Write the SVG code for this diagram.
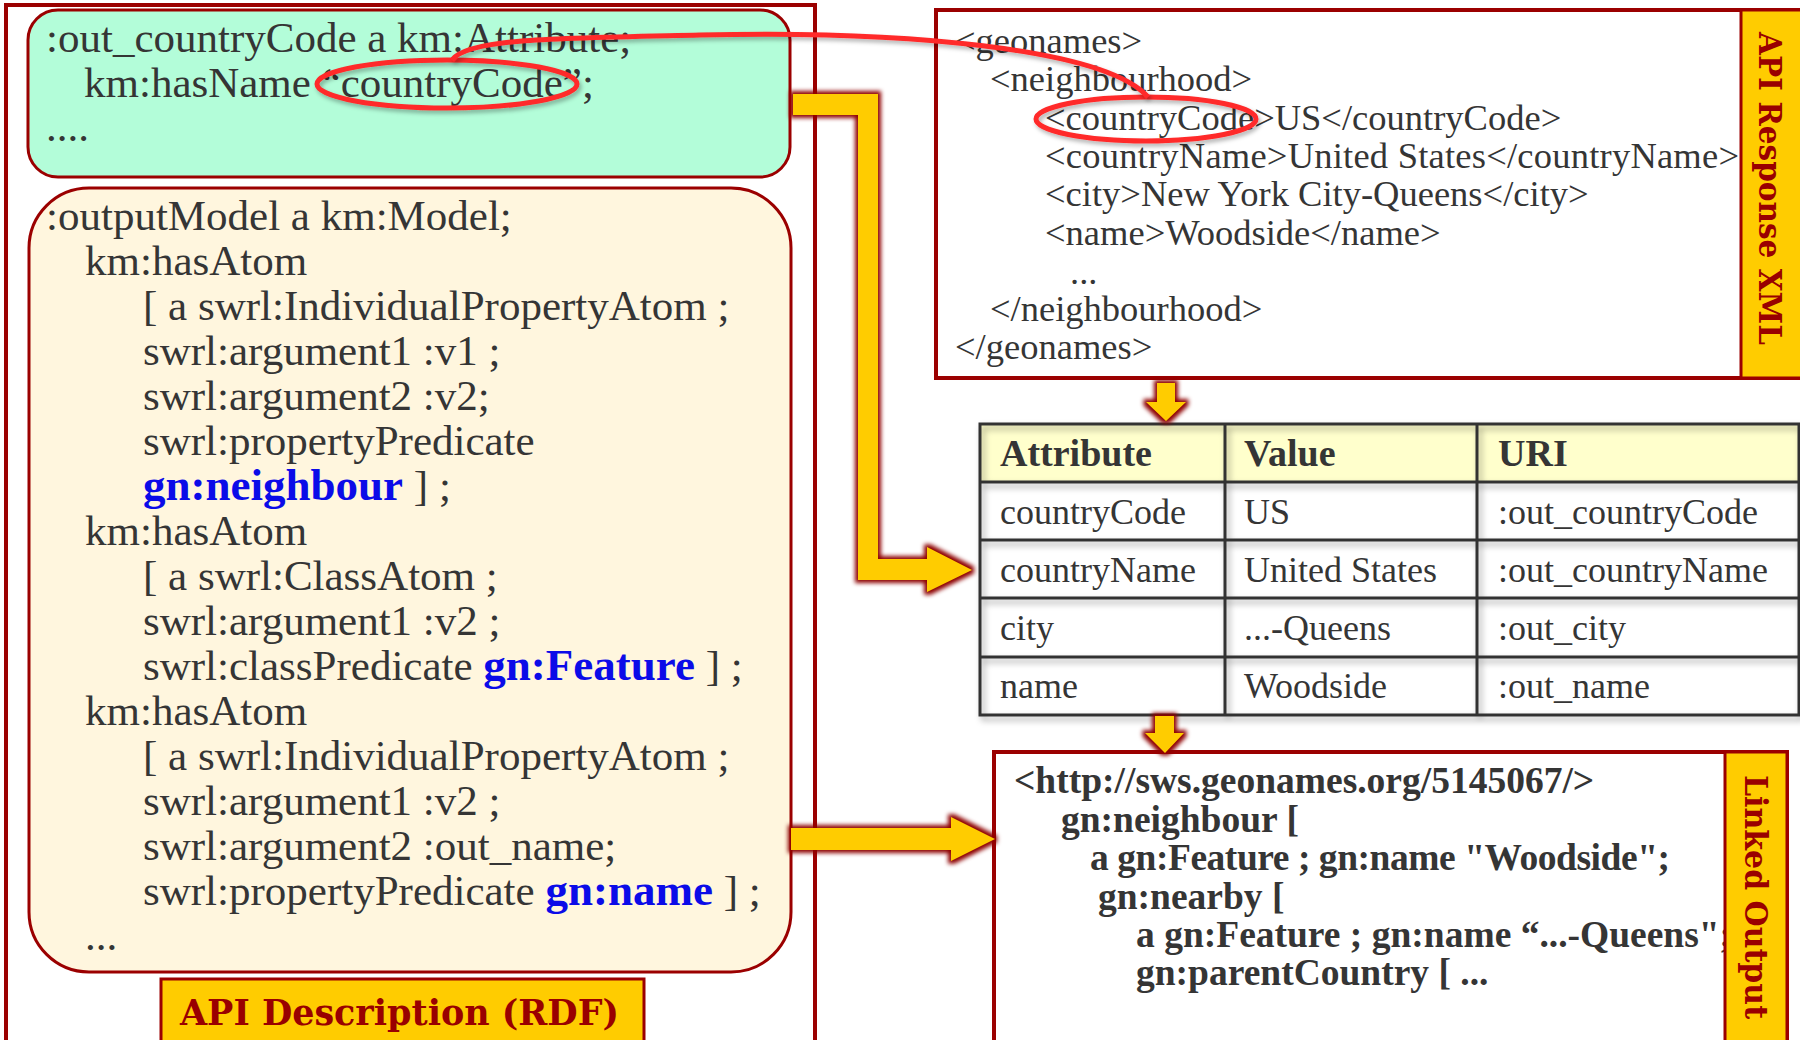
<svg xmlns="http://www.w3.org/2000/svg" width="1800" height="1040" viewBox="0 0 1800 1040">
<defs>
<style>
.frame{fill:none;stroke:#9B0000;stroke-width:4}
.t{font-family:"Liberation Serif","Times New Roman",serif;fill:#353535}
.l42{font-size:43px}
.l36{font-size:36.5px}
.c36{font-size:36px}
.o37{font-size:37.5px;font-weight:bold}
.b{font-weight:bold}
.blue{fill:#0B0BE8;font-weight:bold;font-size:45px}
.lab{font-family:"DejaVu Serif","Liberation Serif",serif;font-weight:bold;fill:#990000}
.strip{fill:#FFCC00;stroke:#9B0000;stroke-width:3}
.arrow{fill:#FFCC00;filter:url(#glow)}
.grid{fill:none;stroke:#333;stroke-width:3}
.hl{fill:none;stroke:#FF2A2A;stroke-width:5;filter:url(#sh)}
</style>
<filter id="glow" filterUnits="userSpaceOnUse" x="0" y="0" width="1800" height="1040" color-interpolation-filters="sRGB">
<feMorphology in="SourceAlpha" operator="dilate" radius="3" result="d"/>
<feGaussianBlur in="d" stdDeviation="2.2" result="b"/>
<feFlood flood-color="#8E0000"/>
<feComposite in2="b" operator="in"/>
<feMerge><feMergeNode/><feMergeNode in="SourceGraphic"/></feMerge>
</filter>
<filter id="tsh" filterUnits="userSpaceOnUse" x="0" y="0" width="1800" height="1040">
<feDropShadow dx="3" dy="4" stdDeviation="3" flood-color="#000" flood-opacity="0.35"/>
</filter>
<filter id="sh" filterUnits="userSpaceOnUse" x="0" y="0" width="1800" height="1040">
<feDropShadow dx="2" dy="3" stdDeviation="2" flood-color="#000" flood-opacity="0.3"/>
</filter>
</defs>
<rect width="1800" height="1040" fill="#fff"/>

<g id="api-description">
<rect class="frame" x="6" y="5" width="809" height="1045"/>
</g>

<g id="attribute-node">
<rect x="28" y="10" width="762" height="167" rx="30" fill="#B3FDD9" stroke="#9B0000" stroke-width="3"/>
<text class="t l42" x="46" y="52">:out_countryCode a km:Attribute;</text>
<text class="t l42" x="84" y="97">km:hasName “countryCode”;</text>
<text class="t l42" x="46" y="141">....</text>
</g>

<g id="model-node">
<rect x="29" y="188" width="762" height="784" rx="60" fill="#FFF6DE" stroke="#9B0000" stroke-width="3"/>
<text class="t l42" x="46" y="230">:outputModel a km:Model;</text>
<text class="t l42" x="85" y="275">km:hasAtom</text>
<text class="t l42" x="143" y="320">[ a swrl:IndividualPropertyAtom ;</text>
<text class="t l42" x="143" y="365">swrl:argument1 :v1 ;</text>
<text class="t l42" x="143" y="410">swrl:argument2 :v2;</text>
<text class="t l42" x="143" y="455">swrl:propertyPredicate</text>
<text class="t l42" x="143" y="500"><tspan class="blue">gn:neighbour</tspan> ] ;</text>
<text class="t l42" x="85" y="545">km:hasAtom</text>
<text class="t l42" x="143" y="590">[ a swrl:ClassAtom ;</text>
<text class="t l42" x="143" y="635">swrl:argument1 :v2 ;</text>
<text class="t l42" x="143" y="680">swrl:classPredicate <tspan class="blue">gn:Feature</tspan> ] ;</text>
<text class="t l42" x="85" y="725">km:hasAtom</text>
<text class="t l42" x="143" y="770">[ a swrl:IndividualPropertyAtom ;</text>
<text class="t l42" x="143" y="815">swrl:argument1 :v2 ;</text>
<text class="t l42" x="143" y="860">swrl:argument2 :out_name;</text>
<text class="t l42" x="143" y="905">swrl:propertyPredicate <tspan class="blue">gn:name</tspan> ] ;</text>
<text class="t l42" x="85" y="950">...</text>
</g>

<g id="api-description-label">
<rect x="161" y="979" width="483" height="70" fill="#FFCC00" stroke="#9B0000" stroke-width="3"/>
<text class="lab" x="180" y="1025" font-size="35" textLength="439" lengthAdjust="spacingAndGlyphs">API Description (RDF)</text>
</g>

<g id="xml-node">
<rect x="936" y="10" width="870" height="368" fill="#fff" stroke="#9B0000" stroke-width="4"/>
<text class="t l36" x="955" y="53">&lt;geonames&gt;</text>
<text class="t l36" x="990" y="91">&lt;neighbourhood&gt;</text>
<text class="t l36" x="1045" y="130">&lt;countryCode&gt;US&lt;/countryCode&gt;</text>
<text class="t l36" x="1045" y="168" textLength="694">&lt;countryName&gt;United States&lt;/countryName&gt;</text>
<text class="t l36" x="1045" y="206">&lt;city&gt;New York City-Queens&lt;/city&gt;</text>
<text class="t l36" x="1045" y="245">&lt;name&gt;Woodside&lt;/name&gt;</text>
<text class="t l36" x="1070" y="284">...</text>
<text class="t l36" x="990" y="321">&lt;/neighbourhood&gt;</text>
<text class="t l36" x="955" y="359">&lt;/geonames&gt;</text>
<rect class="strip" x="1741" y="10" width="62" height="368"/>
<text class="lab" font-size="31" transform="translate(1759,32) rotate(90)" textLength="313" lengthAdjust="spacingAndGlyphs">API Response XML</text>
</g>

<g id="table-node">
<rect x="980" y="424" width="819" height="58" fill="#FFFFCC"/>
<g filter="url(#tsh)">
<path class="grid" d="M980 424H1799V715H980Z M980 482H1799 M980 540H1799 M980 598H1799 M980 657H1799 M1225 424V715 M1477 424V715"/>
</g>
<text class="t b" font-size="38" x="1000" y="466">Attribute</text>
<text class="t b" font-size="38" x="1244" y="466">Value</text>
<text class="t b" font-size="38" x="1498" y="466">URI</text>
<text class="t c36" x="1000" y="524">countryCode</text>
<text class="t c36" x="1244" y="524">US</text>
<text class="t c36" x="1498" y="524">:out_countryCode</text>
<text class="t c36" x="1000" y="582">countryName</text>
<text class="t c36" x="1244" y="582">United States</text>
<text class="t c36" x="1498" y="582">:out_countryName</text>
<text class="t c36" x="1000" y="640">city</text>
<text class="t c36" x="1244" y="640">...-Queens</text>
<text class="t c36" x="1498" y="640">:out_city</text>
<text class="t c36" x="1000" y="698">name</text>
<text class="t c36" x="1244" y="698">Woodside</text>
<text class="t c36" x="1498" y="698">:out_name</text>
</g>

<g id="output-node">
<rect x="994" y="752" width="793" height="300" fill="#fff" stroke="#9B0000" stroke-width="4"/>
<text class="t o37" x="1014" y="793">&lt;http://sws.geonames.org/5145067/&gt;</text>
<text class="t o37" x="1061" y="832">gn:neighbour [</text>
<text class="t o37" x="1090" y="870" textLength="580">a gn:Feature ; gn:name "Woodside";</text>
<text class="t o37" x="1098" y="909">gn:nearby [</text>
<text class="t o37" x="1136" y="947">a gn:Feature ; gn:name “...-Queens";</text>
<text class="t o37" x="1136" y="985">gn:parentCountry [ ...</text>
<rect class="strip" x="1725" y="752" width="62" height="300"/>
<text class="lab" font-size="31" transform="translate(1745,775) rotate(90)" textLength="244" lengthAdjust="spacingAndGlyphs">Linked Output</text>
</g>

<g id="connectors">
<polygon class="arrow" points="793,94 878,94 878,559 927,559 927,547 972,570 927,592 927,580 858,580 858,115 793,115"/>
<polygon class="arrow" points="791,828 951,828 951,817 995,839 951,861 951,850 791,850"/>
<polygon class="arrow" points="1157,383 1175,383 1175,402 1186,402 1166,421 1146,402 1157,402"/>
<polygon class="arrow" points="1155,716 1174,716 1174,733 1184,733 1165,753 1145,733 1155,733"/>
<ellipse class="hl" cx="447" cy="84" rx="130" ry="24"/>
<ellipse class="hl" cx="1146" cy="119" rx="110" ry="22"/>
<path class="hl" d="M452 60 C468 38 560 38 700 35 C900 30 1105 48 1148 97"/>
</g>
</svg>
